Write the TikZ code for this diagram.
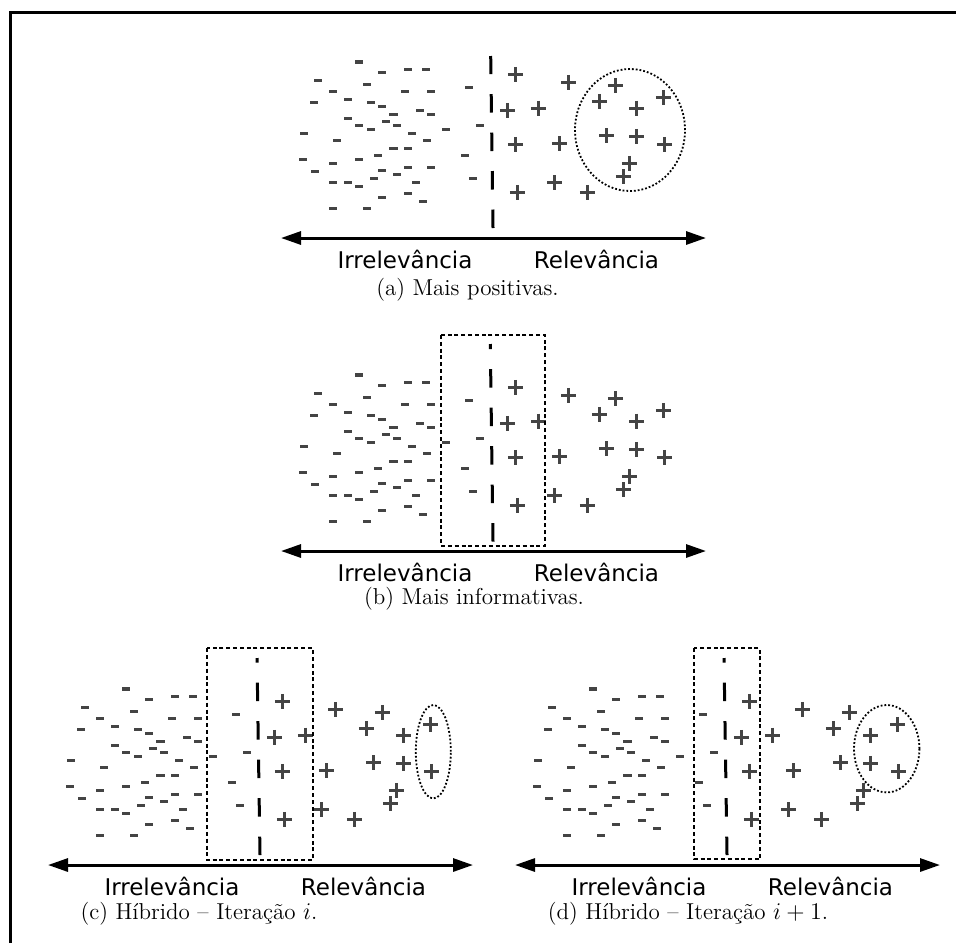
\documentclass[tikz,border=0pt]{standalone}
\usepackage{fontspec}
\newfontfamily\sansrot{DejaVu Sans}
\usetikzlibrary{arrows.meta,positioning}

\definecolor{cinza}{RGB}{68,68,68}

% pontos do conjunto (coordenadas do painel a, em px)
\newcommand\negativos{359/62, 382/72.7, 408/69.7, 426/69.7, 318/80.7, 366.7/84.7,
  332.7/91.7, 405/91.7, 431/91.7, 468.7/87.7, 314/102.7, 348/99.7, 370.7/102.7,
  382/106.7, 420/110.7, 431/114.7, 393.3/114.7, 348/118.7, 386/121.7, 359/125.7,
  370.7/129.7, 396.7/125.7, 445.7/129.7, 480/125.7, 304/133.7, 412/133.7,
  336.7/140.7, 426.7/140.7, 393.3/148.7, 408/148.7, 378/155.7, 464.7/155.7,
  302.7/159.7, 359/159.7, 332.7/163.7, 314.7/171.7, 382/170.7, 408/167.7,
  431/167.7, 396.7/174.7, 374/178.7, 472.7/178.7, 332.7/182.7, 348/182.7,
  359/186.7, 416/182.7, 382/197.7, 408/193.7, 422.7/201.7, 332.7/208.7, 366.7/208.7}
\newcommand\positivos{515.3/74.3, 568.7/82.3, 615.3/85.3, 507.3/110.3, 538.3/108,
  599.3/101.3, 636.7/108, 663.3/97.3, 515.3/144.3, 559.3/143.7, 606.7/135.7,
  636.7/136.3, 664.7/144.3, 629.3/163.3, 623.3/176.7, 517.3/192.3, 554.7/182.7,
  587.3/192.3}

\tikzset{
  menos/.style={fill=cinza},
  mais/.style={draw=cinza,line width=1.5pt},
  pics/amostras/.style={code={
    \foreach \x/\y in \negativos
      \fill[menos] (\x-4.2,\y-1.6) rectangle (\x+4.2,\y+1.6);
    \foreach \x/\y in \positivos
      \draw[mais] (\x,\y) +(-7.5,0) -- +(7.5,0) +(0,-7.5) -- +(0,7.5);
  }}
}

\begin{document}
\begin{tikzpicture}[x=0.5pt,y=-0.5pt,
    eixo/.style={{Triangle[length=10pt,width=6.5pt]}-{Triangle[length=10pt,width=6.5pt]},line width=1.5pt},
    fronteira/.style={line width=1.5pt,dash pattern=on 9.25pt off 10pt},
    caixa/.style={draw,line width=1pt,dash pattern=on 2pt off 1.4pt},
    grupo/.style={draw,line width=0.9pt,densely dotted},
    rotulo/.style={font=\sansrot\fontsize{11.5}{13}\selectfont,inner sep=0pt,anchor=base},
    legenda/.style={font=\fontsize{11.5}{14}\selectfont,inner sep=0pt,anchor=base}]
  \useasboundingbox (0,0) rectangle (956,943);
  \draw[line width=1.5pt] (10.7,943) |- (956,12.5);

  % (a) mais positivas
  \pic at (0,0) {amostras};
  \coordinate (eA1) at (281,238);
  \coordinate (eA2) at (706,238);
  \draw[eixo] (eA1) -- (eA2);
  \draw[fronteira] (493,228) -- (490.7,56);
  \draw[grupo] (630,130) ellipse [x radius=27.5pt,y radius=30.5pt];
  \node[rotulo] (irrA) at (405,268) {Irrelevância};
  \node[rotulo] (relA) at (596.5,268) {Relevância};
  \node[legenda] (legA) at (467.5,295) {(a) Mais positivas.};

  % (b) mais informativas
  \pic at (0,313) {amostras};
  \coordinate (eB1) at (281,551);
  \coordinate (eB2) at (706,551);
  \draw[eixo] (eB1) -- (eB2);
  \draw[caixa] (441,335) rectangle (545,545.7);
  \draw[fronteira] (493,541.7) -- (490.3,344);
  \node[rotulo] (irrB) at (405,581) {Irrelevância};
  \node[rotulo] (relB) at (596.5,581) {Relevância};
  \node[legenda] (legB) at (474,604) {(b) Mais informativas.};

  % (c) hibrido, iteracao i
  \pic at (-233,627) {amostras};
  \coordinate (eC1) at (48,865);
  \coordinate (eC2) at (473,865);
  \draw[eixo] (eC1) -- (eC2);
  \draw[caixa] (206.7,648.3) rectangle (312.7,860);
  \draw[fronteira] (260,855) -- (257,658);
  \draw[grupo] (433.3,751.7) ellipse [x radius=8.75pt,y radius=23.35pt];
  \node[rotulo] (irrC) at (172,895) {Irrelevância};
  \node[rotulo] (relC) at (363.5,895) {Relevância};
  \node[legenda] (legC) at (199,919) {(c) Híbrido – Iteração $i$.};

  % (d) hibrido, iteracao i+1
  \pic at (234,627) {amostras};
  \coordinate (eD1) at (515,865);
  \coordinate (eD2) at (940,865);
  \draw[eixo] (eD1) -- (eD2);
  \draw[caixa] (694,648.3) rectangle (760,859.3);
  \draw[fronteira] (727,855) -- (724,658);
  \draw[grupo] (886.7,748.7) ellipse [x radius=16.35pt,y radius=21.85pt];
  \node[rotulo] (irrD) at (639,895) {Irrelevância};
  \node[rotulo] (relD) at (830.5,895) {Relevância};
  \node[legenda] (legD) at (688,919) {(d) Híbrido – Iteração $i+1$.};
\end{tikzpicture}
\end{document}
